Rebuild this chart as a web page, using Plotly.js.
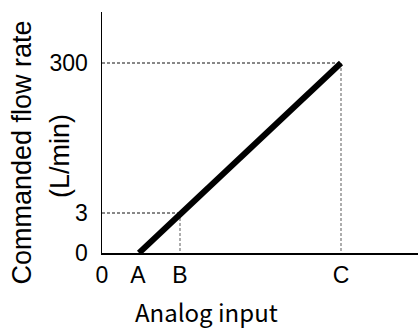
<!DOCTYPE html>
<html><head><meta charset="utf-8">
<script src="https://cdn.plot.ly/plotly-3.0.1.min.js"></script>
<style>html,body{margin:0;padding:0;background:#fff;}#chart{width:418px;height:329px;}</style>
</head><body><div id="chart"></div>
<script>
// Schematic positions (axis units) and their labels
const xTickVals = [0, 36, 78, 239];
const xTickText = ['0', 'A', 'B', 'C'];
const yTickVals = [0, 40, 190];
const yTickText = ['0', '3', '300'];
// Commanded flow line: from A (flow 0) to C (flow 300)
const lineX = [37, 239];
const lineY = [0, 190];
// Guide points
const pointB = {x: 78, y: 40};
const pointC = {x: 239, y: 190};

const FA = 'Arial';
const FJ = 'Noto Sans CJK JP';
const hGuide = {color: '#111', width: 1, dash: '3px,2px'};
const vGuide = {color: '#777', width: 1.2, dash: '3px,2px'};

const traces = [
  {x: [0, pointC.x], y: [pointC.y, pointC.y], mode: 'lines', line: hGuide, hoverinfo: 'skip'},
  {x: [pointC.x, pointC.x], y: [pointC.y, 0], mode: 'lines', line: vGuide, hoverinfo: 'skip'},
  {x: [0, pointB.x], y: [pointB.y, pointB.y], mode: 'lines', line: hGuide, hoverinfo: 'skip'},
  {x: [pointB.x, pointB.x], y: [pointB.y, 0], mode: 'lines', line: vGuide, hoverinfo: 'skip'},
  {x: lineX, y: lineY, mode: 'lines', line: {color: '#000', width: 6}, hoverinfo: 'skip'}
];

const tf = {family: FA, size: 23, color: '#000'};
const layout = {
  width: 418, height: 329,
  margin: {l: 102, r: 0, t: 12, b: 76},
  paper_bgcolor: '#fff', plot_bgcolor: '#fff',
  showlegend: false,
  font: tf,
  xaxis: {range: [0, 316], tickmode: 'array', tickvals: xTickVals, ticktext: xTickText, showgrid: false, zeroline: false,
          showline: true, linecolor: '#000', linewidth: 1.5, ticks: '', ticklabelstandoff: 1,
          tickfont: tf, fixedrange: true},
  yaxis: {range: [0, 241], tickmode: 'array', tickvals: yTickVals, ticktext: yTickText, showgrid: false, zeroline: false,
          showline: true, linecolor: '#000', linewidth: 1.5, ticks: '', ticklabelstandoff: 8,
          tickfont: tf, fixedrange: true},
  annotations: [
    {text: 'Analog input', x: 0.3307, y: -0.2407, xref: 'paper', yref: 'paper', showarrow: false,
     xanchor: 'center', yanchor: 'middle', font: {family: FJ, size: 24, color: '#000'}},
    {text: 'Commanded flow rate', x: -0.2532, y: 0.417, xref: 'paper', yref: 'paper', showarrow: false,
     textangle: -90, xanchor: 'center', yanchor: 'middle', font: {family: FA, size: 27, color: '#000'}},
    {text: '(L/min)', x: -0.1329, y: 0.4025, xref: 'paper', yref: 'paper', showarrow: false,
     textangle: -90, xanchor: 'center', yanchor: 'middle', font: {family: FA, size: 27, color: '#000'}}
  ]
};
Plotly.newPlot('chart', traces, layout, {displayModeBar: false, staticPlot: true});
</script></body></html>
